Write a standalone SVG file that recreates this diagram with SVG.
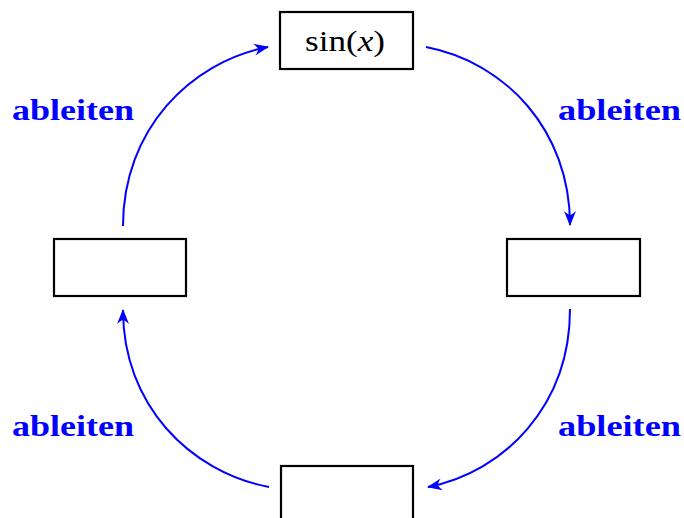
<svg xmlns="http://www.w3.org/2000/svg" width="684" height="518" viewBox="0 0 684 518">
<style>
.node{fill:#fff;stroke:#000;stroke-width:2.2}
.conn{fill:none;stroke:#0000ff;stroke-width:2}
.lbl{font-family:"Liberation Serif",serif;font-weight:bold;font-size:30px;fill:#0000ff}
.math{font-family:"Liberation Serif",serif;font-size:29px;fill:#000}
</style>
<defs>
<marker id="arr" markerUnits="userSpaceOnUse" markerWidth="20" markerHeight="20" viewBox="-17 -10 20 20" refX="0" refY="0" orient="auto">
<path d="M1,0 L-14,-6 Q-10,-1.5 -10,0 Q-10,1.5 -14,6 Z" fill="#0000ff"/>
</marker>
</defs>
<rect width="684" height="518" fill="#fff"/>
<g id="n-top">
<rect class="node" x="280" y="12" width="133" height="57"/>
<text class="math" x="345" y="51" text-anchor="middle" textLength="80" lengthAdjust="spacingAndGlyphs">sin(<tspan font-style="italic">x</tspan>)</text>
</g>
<g id="n-right"><rect class="node" x="507" y="239" width="133" height="57"/></g>
<g id="n-left"><rect class="node" x="54" y="239" width="132" height="57"/></g>
<g id="n-bottom"><rect class="node" x="281" y="466" width="132" height="60"/></g>
<g id="connectors">
<path class="conn" marker-end="url(#arr)" d="M426,47 C505,62 570,130 570,225"/>
<path class="conn" marker-end="url(#arr)" d="M570,309 C570,405 505,472 428,487"/>
<path class="conn" marker-end="url(#arr)" d="M269,487 C190,472 123,405 123,310"/>
<path class="conn" marker-end="url(#arr)" d="M123,226 C123,130 190,62 268,47"/>
</g>
<g id="labels">
<text class="lbl" x="12" y="120" textLength="122" lengthAdjust="spacingAndGlyphs">ableiten</text>
<text class="lbl" x="558" y="120" textLength="123" lengthAdjust="spacingAndGlyphs">ableiten</text>
<text class="lbl" x="12" y="436" textLength="122" lengthAdjust="spacingAndGlyphs">ableiten</text>
<text class="lbl" x="558" y="436" textLength="123" lengthAdjust="spacingAndGlyphs">ableiten</text>
</g>
</svg>
